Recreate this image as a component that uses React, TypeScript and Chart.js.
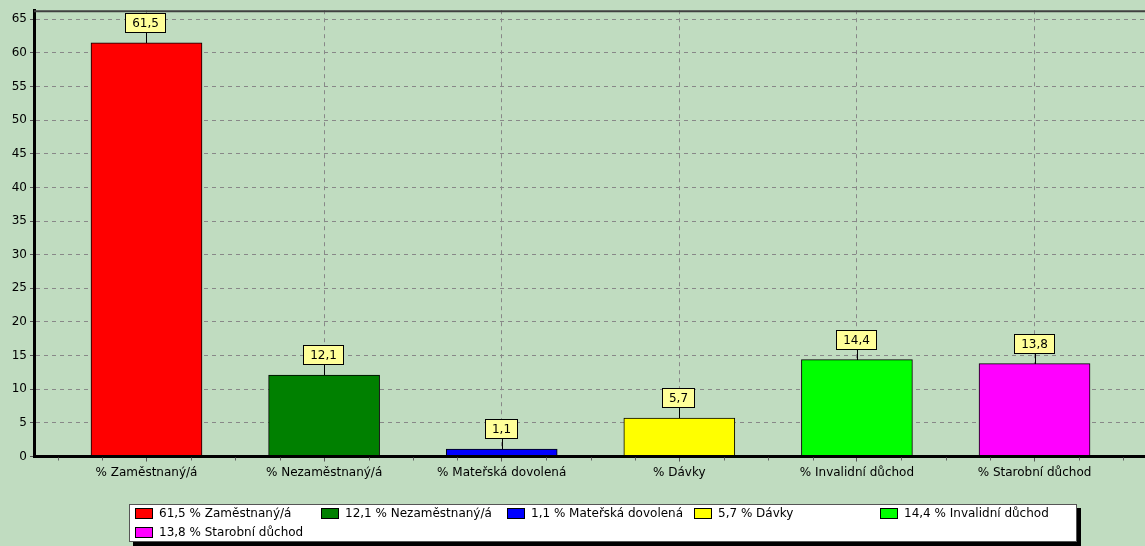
import React, { useEffect, useRef } from 'react';
import { Chart, registerables } from 'chart.js';

Chart.register(...registerables);

const categories = [
  '% Zaměstnaný/á',
  '% Nezaměstnaný/á',
  '% Mateřská dovolená',
  '% Dávky',
  '% Invalidní důchod',
  '% Starobní důchod',
];
const values = [61.5, 12.1, 1.1, 5.7, 14.4, 13.8];
const barColors = ['#FF0000', '#008000', '#0000FF', '#FFFF00', '#00FF00', '#FF00FF'];
const positions = [1, 2, 3, 4, 5, 6];

const yMin = 0;
const yMax = 66.35;
const yStep = 5;
const xMin = 0.3666;
const xMax = 6.622;

const FONT = '"DejaVu Sans", Verdana, sans-serif';
const BG = '#C0DCC0';
const fmt = (v: number) => v.toFixed(1).replace('.', ',');

const decorPlugin = {
  id: 'decor',
  beforeDraw(chart: any) {
    const ctx = chart.ctx;
    ctx.save();
    ctx.fillStyle = BG;
    ctx.fillRect(0, 0, chart.width, chart.height);
    ctx.restore();
  },
  afterDatasetsDraw(chart: any) {
    const ctx = chart.ctx;
    const meta = chart.getDatasetMeta(0);
    ctx.save();
    ctx.font = '12px ' + FONT;
    ctx.textAlign = 'center';
    ctx.textBaseline = 'middle';
    meta.data.forEach((el: any, i: number) => {
      const text = fmt(values[i]);
      const tw = ctx.measureText(text).width;
      const w = Math.round(tw) + 14;
      const h = 20;
      const x = Math.round(el.x);
      const top = Math.round(el.y);
      const boxBottom = top - 10;
      const boxTop = boxBottom - h;
      ctx.strokeStyle = '#000';
      ctx.lineWidth = 1;
      ctx.beginPath();
      ctx.moveTo(x + 0.5, boxBottom);
      ctx.lineTo(x + 0.5, top);
      ctx.stroke();
      const bx = x - Math.round(w / 2);
      ctx.fillStyle = '#FFFF99';
      ctx.fillRect(bx, boxTop, w, h);
      ctx.strokeRect(bx + 0.5, boxTop + 0.5, w - 1, h - 1);
      ctx.fillStyle = '#000';
      ctx.fillText(text, bx + w / 2, boxTop + h / 2 + 1);
    });
    ctx.restore();
  },
  afterDraw(chart: any) {
    const ctx = chart.ctx;
    const area = chart.chartArea;
    const xs = chart.scales.x;
    ctx.save();
    ctx.strokeStyle = '#404040';
    ctx.lineWidth = 2;
    ctx.beginPath();
    ctx.moveTo(area.left, area.top + 1);
    ctx.lineTo(area.right, area.top + 1);
    ctx.stroke();
    ctx.strokeStyle = '#606060';
    ctx.lineWidth = 1;
    for (let v = Math.ceil(xMin * 4) / 4; v <= xMax; v += 0.25) {
      if (Math.abs(v - Math.round(v)) < 1e-6) continue;
      const px = Math.round(xs.getPixelForValue(v)) + 0.5;
      ctx.beginPath();
      ctx.moveTo(px, area.bottom + 1);
      ctx.lineTo(px, area.bottom + 4);
      ctx.stroke();
    }
    const lx = 129, ly = 504, lw = 948, lh = 38;
    ctx.fillStyle = '#000';
    ctx.fillRect(lx + 4, ly + 4, lw, lh);
    ctx.fillStyle = '#FFFFFF';
    ctx.fillRect(lx, ly, lw, lh);
    ctx.strokeStyle = '#555';
    ctx.strokeRect(lx + 0.5, ly + 0.5, lw - 1, lh - 1);
    ctx.font = '12px ' + FONT;
    ctx.textAlign = 'left';
    ctx.textBaseline = 'middle';
    const colW = 186.2;
    categories.forEach((c, i) => {
      const col = i % 5;
      const row = Math.floor(i / 5);
      const sx = Math.round(135 + col * colW);
      const sy = 508 + row * 19;
      ctx.fillStyle = barColors[i];
      ctx.fillRect(sx, sy, 18, 11);
      ctx.strokeStyle = '#000';
      ctx.strokeRect(sx + 0.5, sy + 0.5, 17, 10);
      ctx.fillStyle = '#000';
      ctx.fillText(fmt(values[i]) + ' ' + c, sx + 24, sy + 6);
    });
    ctx.restore();
  },
};

export default function App() {
  const canvasRef = useRef<HTMLCanvasElement | null>(null);

  useEffect(() => {
    const canvas = canvasRef.current;
    if (!canvas) return;
    const chart = new Chart(canvas, {
      type: 'bar',
      data: {
        datasets: [
          {
            data: positions.map((p, i) => ({ x: p, y: values[i] })),
            backgroundColor: barColors,
            borderColor: '#000',
            borderWidth: 1,
            borderSkipped: 'start',
            barThickness: 111,
          },
        ],
      },
      options: {
        responsive: false,
        animation: false,
        devicePixelRatio: 1,
        layout: { padding: { top: 8, bottom: 59.5, left: 0, right: 0 } },
        plugins: {
          legend: { display: false },
          tooltip: { enabled: false },
          title: { display: false },
        },
        scales: {
          x: {
            type: 'linear',
            offset: false,
            min: xMin,
            max: xMax,
            afterFit: (s: any) => {
              s.height = 30;
            },
            ticks: {
              stepSize: 1,
              includeBounds: false,
              autoSkip: false,
              maxRotation: 0,
              padding: 4,
              color: '#000',
              font: { family: FONT, size: 12 },
              callback: (v: any) => {
                const i = Math.round(Number(v)) - 1;
                return categories[i] ?? '';
              },
            },
            grid: {
              offset: false,
              color: '#888',
              lineWidth: 1,
              tickLength: 5,
              tickColor: '#555',
              tickBorderDash: [],
            },
            border: { color: '#000', width: 3, z: 1, dash: [4, 4] },
          },
          y: {
            type: 'linear',
            min: yMin,
            max: yMax,
            afterFit: (s: any) => {
              s.width = 34;
            },
            ticks: {
              stepSize: yStep,
              includeBounds: false,
              padding: 3,
              color: '#000',
              font: { family: FONT, size: 12 },
            },
            grid: {
              color: '#888',
              lineWidth: 1,
              tickLength: 4,
              tickColor: '#555',
              tickBorderDash: [],
            },
            border: { color: '#000', width: 3, z: 1, dash: [4, 4] },
          },
        },
      },
      plugins: [decorPlugin],
    } as any);
    return () => chart.destroy();
  }, []);

  return (
    <div style={{ position: 'fixed', left: 0, top: 0, width: 1145, height: 546, overflow: 'hidden', background: BG }}>
      <canvas ref={canvasRef} width={1145} height={546} style={{ width: 1145, height: 546, display: 'block' }} />
    </div>
  );
}
